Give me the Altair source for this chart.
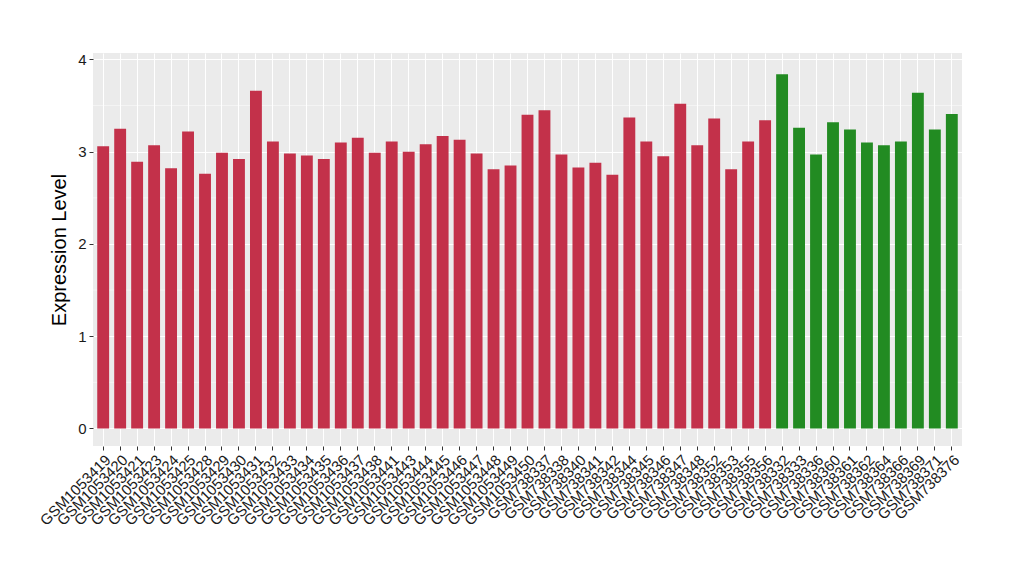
import altair as alt
import pandas as pd

samples = [
    "GSM1053419", "GSM1053420", "GSM1053421", "GSM1053423", "GSM1053424", "GSM1053425",
    "GSM1053428", "GSM1053429", "GSM1053430", "GSM1053431", "GSM1053432", "GSM1053433",
    "GSM1053434", "GSM1053435", "GSM1053436", "GSM1053437", "GSM1053438", "GSM1053441",
    "GSM1053443", "GSM1053444", "GSM1053445", "GSM1053446", "GSM1053447", "GSM1053448",
    "GSM1053449", "GSM1053450",
    "GSM738337", "GSM738338", "GSM738340", "GSM738341", "GSM738342", "GSM738344",
    "GSM738345", "GSM738346", "GSM738347", "GSM738348", "GSM738352", "GSM738353",
    "GSM738355", "GSM738356",
    "GSM738332", "GSM738333", "GSM738336", "GSM738360", "GSM738361", "GSM738362",
    "GSM738364", "GSM738366", "GSM738369", "GSM738371", "GSM738376",
]
values = [
    3.06, 3.25, 2.89, 3.07, 2.82, 3.22, 2.76, 2.99, 2.92, 3.66, 3.11, 2.98, 2.96,
    2.92, 3.10, 3.15, 2.99, 3.11, 3.00, 3.08, 3.17, 3.13, 2.98, 2.81, 2.85, 3.40,
    3.45, 2.97, 2.83, 2.88, 2.75, 3.37, 3.11, 2.95, 3.52, 3.07, 3.36, 2.81, 3.11, 3.34,
    3.84, 3.26, 2.97, 3.32, 3.24, 3.10, 3.07, 3.11, 3.64, 3.24, 3.41,
]
groups = ["A"] * 40 + ["B"] * 11
group_names = ["A", "B"]
group_colors = ["#C3314A", "#228B22"]
minor_grid = [0.5, 1.5, 2.5, 3.5]
y_ticks = [0, 1, 2, 3, 4]

df = pd.DataFrame({"sample": samples, "value": values, "group": groups})
minor_df = pd.DataFrame({"y": minor_grid})

yscale = alt.Scale(domain=[-0.19, 4.07], nice=False, zero=False)

minor = alt.Chart(minor_df).mark_rule(color="white", strokeWidth=0.5).encode(
    y=alt.Y("y:Q", scale=yscale)
)

bars = alt.Chart(df).mark_bar().encode(
    x=alt.X(
        "sample:N",
        sort=None,
        scale=alt.Scale(paddingInner=0.3, paddingOuter=0.25),
        axis=alt.Axis(
            title=None,
            labelAngle=-45,
            labelAlign="right",
            labelBaseline="top",
            labelFontSize=15,
            labelColor="#1a1a1a",
            labelFont="Liberation Sans",
            labelPadding=2,
            tickColor="#333333",
            tickSize=4,
            domain=False,
            grid=True,
            gridColor="white",
            gridWidth=1,
            bandPosition=0.5,
        ),
    ),
    y=alt.Y(
        "value:Q",
        scale=yscale,
        axis=alt.Axis(
            title="Expression Level",
            titleFontSize=20,
            titleFontWeight="normal",
            titleFont="Liberation Sans",
            titleColor="black",
            titlePadding=8,
            values=y_ticks,
            format="d",
            labelFontSize=15,
            labelColor="#1a1a1a",
            labelFont="Liberation Sans",
            tickColor="#333333",
            tickSize=4,
            labelPadding=3,
            domain=False,
            grid=True,
            gridColor="white",
            gridWidth=1,
        ),
    ),
    y2=alt.datum(0),
    color=alt.Color(
        "group:N",
        scale=alt.Scale(domain=group_names, range=group_colors),
        legend=None,
    ),
)

chart = (
    alt.layer(minor, bars)
    .properties(
        width=869,
        height=393,
        background="white",
        autosize=alt.AutoSizeParams(type="none"),
        padding={"left": 85, "top": 45, "right": 40, "bottom": 110},
    )
    .configure_view(fill="#EBEBEB", strokeWidth=0)
)

chart.save("out.html", embed_options={"renderer": "svg", "actions": False})
